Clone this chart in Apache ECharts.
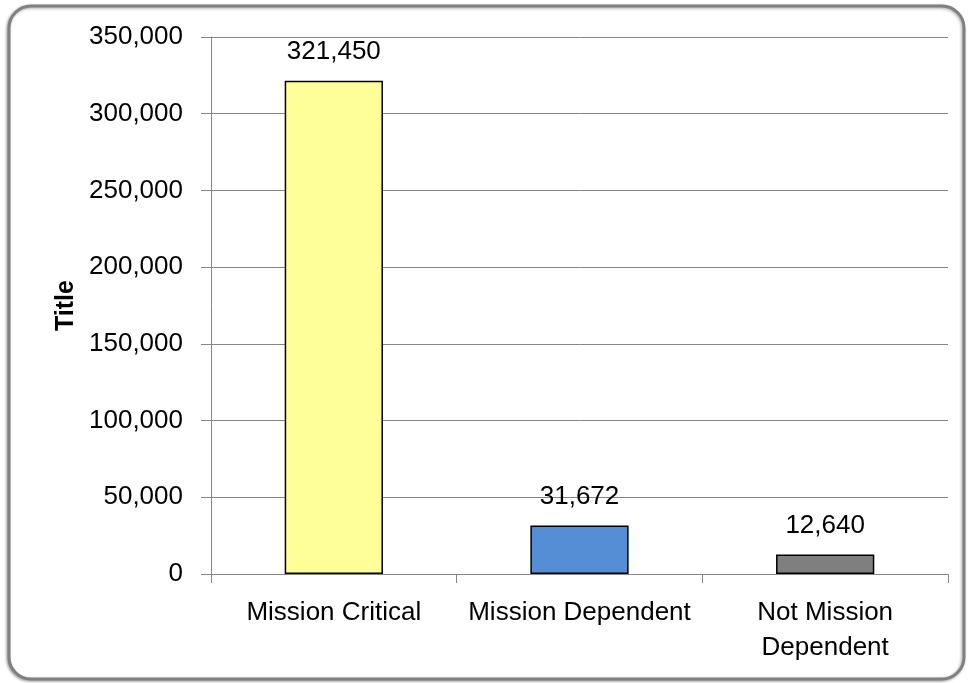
<!DOCTYPE html>
<html>
<head>
<meta charset="utf-8">
<script src="https://cdn.jsdelivr.net/npm/echarts@6/dist/echarts.min.js"></script>
<style>
html,body{margin:0;padding:0;background:#fff;}
#chart{width:969px;height:683px;}
</style>
</head>
<body>
<div id="chart"></div>
<script>
const categories = ['Mission Critical', 'Mission Dependent', 'Not Mission\nDependent'];
const values = [321450, 31672, 12640];
const barColors = ['#FFFF99', '#558ED5', '#7F7F7F'];
const yTitle = 'Title';

const FONT = "'Liberation Sans', Arial, sans-serif";
const fmt = v => v.toLocaleString('en-US');

const chart = echarts.init(document.getElementById('chart'), null, {renderer: 'canvas'});
chart.setOption({
  animation: false,
  backgroundColor: '#fff',
  graphic: [{
    type: 'rect',
    z: -10,
    shape: {x: 9, y: 6, width: 955, height: 673, r: 22},
    style: {fill: '#fff', stroke: '#808080', lineWidth: 3, shadowBlur: 3, shadowColor: 'rgba(0,0,0,0.35)', shadowOffsetX: -1, shadowOffsetY: 1}
  }],
  grid: {left: 211, right: 21, top: 37, bottom: 109},
  xAxis: {
    type: 'category',
    data: categories,
    axisLine: {show: true, lineStyle: {color: '#868686', width: 1}},
    axisTick: {show: true, length: 9, lineStyle: {color: '#868686'}},
    axisLabel: {color: '#000', fontFamily: FONT, fontSize: 26, lineHeight: 35, margin: 21, interval: 0}
  },
  yAxis: {
    type: 'value',
    min: 0, max: 350000, interval: 50000,
    name: yTitle,
    nameLocation: 'middle',
    nameGap: 127,
    nameTextStyle: {color: '#000', fontFamily: FONT, fontSize: 25, fontWeight: 'bold'},
    axisLine: {show: true, lineStyle: {color: '#868686', width: 1}},
    axisTick: {show: true, length: 10, inside: false, lineStyle: {color: '#868686'}},
    splitLine: {show: true, lineStyle: {color: '#868686', width: 1}},
    axisLabel: {color: '#000', fontFamily: FONT, fontSize: 26, margin: 28, formatter: v => fmt(v)}
  },
  series: [{
    type: 'bar',
    barWidth: '40%',
    data: values.map((v, i) => ({value: v, itemStyle: {color: barColors[i]}})),
    itemStyle: {borderColor: '#000', borderWidth: 1.5},
    label: {show: true, position: 'top', distance: 16, color: '#000', fontFamily: FONT, fontSize: 26, formatter: p => fmt(p.value)}
  }]
});
</script>
</body>
</html>
